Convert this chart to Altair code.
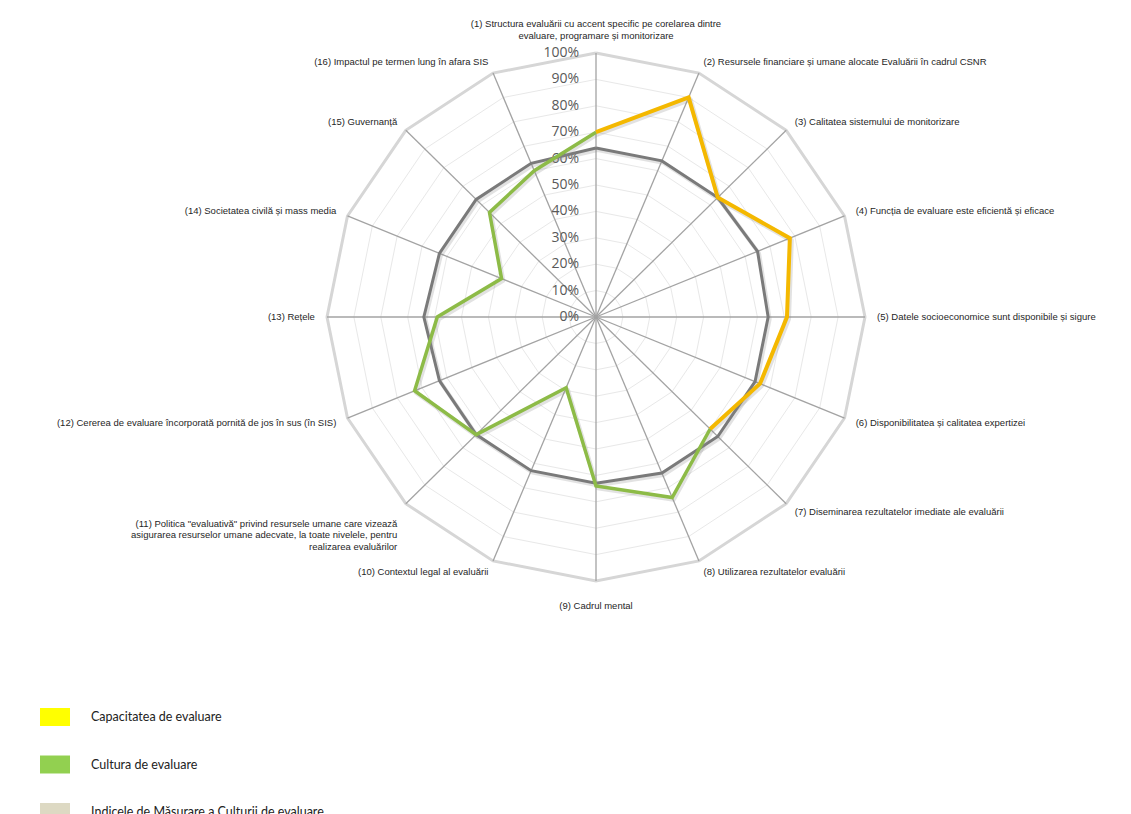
import altair as alt
import pandas as pd

# --- data -------------------------------------------------------------------
categories = [
    "(1) Structura evaluării cu accent specific pe corelarea dintre\nevaluare, programare și monitorizare",
    "(2) Resursele financiare și umane alocate Evaluării în cadrul CSNR",
    "(3) Calitatea sistemului de monitorizare",
    "(4) Funcția de evaluare este eficientă și eficace",
    "(5) Datele socioeconomice sunt disponibile și sigure",
    "(6) Disponibilitatea și calitatea expertizei",
    "(7) Diseminarea rezultatelor imediate ale evaluării",
    "(8) Utilizarea rezultatelor evaluării",
    "(9) Cadrul mental",
    "(10) Contextul legal al evaluării",
    "(11) Politica \"evaluativă\" privind resursele umane care vizează\nasigurarea resurselor umane adecvate, la toate nivelele, pentru\nrealizarea evaluărilor",
    "(12) Cererea de evaluare încorporată pornită de jos în sus (în SIS)",
    "(13) Rețele",
    "(14) Societatea civilă și mass media",
    "(15) Guvernanță",
    "(16) Impactul pe termen lung în afara SIS",
]

capacitate = [0.70, 0.90, 0.64, 0.78, 0.71, 0.66, 0.60,
              None, None, None, None, None, None, None, None, None]
cultura = [0.70, None, None, None, None, None, 0.60, 0.74,
           0.64, 0.29, 0.63, 0.73, 0.59, 0.38, 0.56, 0.60]
indice = [0.64, 0.64, 0.64, 0.65, 0.64, 0.64, 0.64, 0.64,
          0.63, 0.63, 0.63, 0.63, 0.64, 0.63, 0.63, 0.63]

tick_levels = [0.0, 0.1, 0.2, 0.3, 0.4, 0.5, 0.6, 0.7, 0.8, 0.9, 1.0]
tick_labels = ["0%", "10%", "20%", "30%", "40%", "50%", "60%", "70%", "80%", "90%", "100%"]

legend_names = ["Capacitatea de evaluare", "Cultura de evaluare",
                "Indicele de Măsurare a Culturii de evaluare"]
legend_colors = ["#ffff00", "#92d050", "#ddd9c3"]

N = len(categories)

# --- helpers ------------------------------------------------------------------
def path_rows(name, vals):
    """Walk a series around the radar, closing the loop when it is complete."""
    present = [v is not None for v in vals]
    if all(present):
        order = list(range(N)) + [0]
    else:
        start = next(i for i in range(N) if present[i] and not present[(i - 1) % N])
        order, i = [], start
        while present[i % N] and len(order) < N:
            order.append(i % N)
            i += 1
    return [{"series": name, "seq": k, "axis": a, "value": vals[a]}
            for k, a in enumerate(order)]


series_df = pd.DataFrame(
    path_rows("Indicele", indice)
    + path_rows("Cultura", cultura)
    + path_rows("Capacitatea", capacitate)
)

ring_df = pd.DataFrame([
    {"level": lv, "seq": k, "axis": k % N}
    for lv in tick_levels[1:] for k in range(N + 1)
])
spoke_df = pd.DataFrame({"axis": list(range(N))})
label_df = pd.DataFrame({"axis": list(range(N)), "label": categories})
tick_df = pd.DataFrame({"level": tick_levels, "text": tick_labels})
legend_df = pd.DataFrame({"name": legend_names})

# --- scales: centre of the radar, unit radius in pixels ----------------------
W, H = 1131, 814
CX, CY = 596, 317
RX, RY = 269, 264
xs = alt.Scale(domain=[-CX / RX, (W - CX) / RX], nice=False, zero=False)
ys = alt.Scale(domain=[-(H - CY) / RY, CY / RY], nice=False, zero=False)

ANG = "datum.axis * 2 * PI / 16"
LINE_H = 11.5


def X(field="x"):
    return alt.X(f"{field}:Q", scale=xs, axis=None)


def Y(field="y"):
    return alt.Y(f"{field}:Q", scale=ys, axis=None)


# --- grid ---------------------------------------------------------------------
rings = alt.Chart(ring_df).transform_calculate(
    x=f"datum.level * sin({ANG})", y=f"datum.level * cos({ANG})"
)
inner_rings = rings.transform_filter("datum.level < 0.999").mark_line(
    stroke="#e8e8e8", strokeWidth=1
).encode(x=X(), y=Y(), detail="level:N", order=alt.Order("seq:Q"))
outer_ring = rings.transform_filter("datum.level >= 0.999").mark_line(
    stroke="#d6d6d6", strokeWidth=3
).encode(x=X(), y=Y(), order=alt.Order("seq:Q"))

spokes = alt.Chart(spoke_df).transform_calculate(
    x0="0", y0="0", x=f"sin({ANG})", y=f"cos({ANG})"
).mark_rule(stroke="#a3a3a3", strokeWidth=1.3).encode(
    x=X("x0"), y=Y("y0"), x2="x:Q", y2="y:Q"
)

ticks = alt.Chart(tick_df).transform_calculate(x0="0").mark_text(
    align="right", baseline="middle", dx=-17, font="Open Sans",
    fontSize=14, color="#595959"
).encode(x=X("x0"), y=Y("level"), text="text:N")

# --- category labels ----------------------------------------------------------
lab = alt.Chart(label_df)
lab_style = dict(font="Liberation Sans", fontSize=9.5, color="#262626",
                 lineBreak="\n", lineHeight=LINE_H, baseline="middle")
# multi-line side labels keep their first line level with the spoke end
side_y = (f"1.045 * cos({ANG}) - (length(split(datum.label, '\\n')) - 1)"
          f" * {LINE_H / 2} / {RY}")
right_labels = lab.transform_filter("datum.axis >= 1 && datum.axis <= 7").transform_calculate(
    x=f"1.045 * sin({ANG})", y=side_y
).mark_text(align="left", **lab_style).encode(x=X(), y=Y(), text="label:N")
left_labels = lab.transform_filter("datum.axis >= 9").transform_calculate(
    x=f"1.045 * sin({ANG})", y=side_y
).mark_text(align="right", **lab_style).encode(x=X(), y=Y(), text="label:N")
pole_labels = lab.transform_filter("datum.axis == 0 || datum.axis == 8").transform_calculate(
    r="datum.axis == 0 ? 1.108 : 1.095"
).transform_calculate(
    x=f"datum.r * sin({ANG})", y=f"datum.r * cos({ANG})"
).mark_text(align="center", **lab_style).encode(x=X(), y=Y(), text="label:N")

# --- series lines -------------------------------------------------------------
base = alt.Chart(series_df).transform_calculate(
    x=f"datum.value * sin({ANG})", y=f"datum.value * cos({ANG})"
)


def series_line(name, color, width):
    src = base.transform_filter(alt.datum.series == name)
    shadow = src.mark_line(
        stroke="#8c8c8c", strokeWidth=width + 1, strokeOpacity=0.25,
        xOffset=1.5, yOffset=2, strokeJoin="round"
    ).encode(x=X(), y=Y(), order=alt.Order("seq:Q"))
    line = src.mark_line(
        stroke=color, strokeWidth=width, strokeJoin="miter"
    ).encode(x=X(), y=Y(), order=alt.Order("seq:Q"))
    return shadow + line


gray_line = series_line("Indicele", "#7a7a7a", 3)
green_line = series_line("Cultura", "#8dbb47", 3.5)
yellow_line = series_line("Capacitatea", "#f4b800", 4)

# --- legend (colour key below the radar) ---------------------------------------
legend_layer = alt.Chart(legend_df).mark_point(
    filled=True, opacity=0, size=1
).encode(
    x=alt.X(datum=0, scale=xs, axis=None),
    y=alt.Y(datum=0, scale=ys, axis=None),
    fill=alt.Fill(
        "name:N",
        scale=alt.Scale(domain=legend_names, range=legend_colors),
        legend=alt.Legend(
            title=None, orient="none", legendX=40, legendY=702,
            symbolType="M-1,-0.6H1V0.6H-1Z", symbolSize=900,
            symbolStrokeWidth=0, symbolOpacity=1, rowPadding=23.5,
            labelOffset=21, labelFont="Lato", labelFontSize=12.5,
            labelColor="#222222", labelLimit=0, padding=0,
        ),
    ),
)

chart = alt.layer(
    inner_rings, outer_ring, spokes, ticks,
    right_labels, left_labels, pole_labels,
    gray_line, green_line, yellow_line, legend_layer,
).properties(
    width=W, height=H, padding=0, autosize=alt.AutoSizeParams(type="none"),
    background="white",
).configure_view(stroke=None)

chart.save("out.html", embed_options={"renderer": "svg", "actions": False})
